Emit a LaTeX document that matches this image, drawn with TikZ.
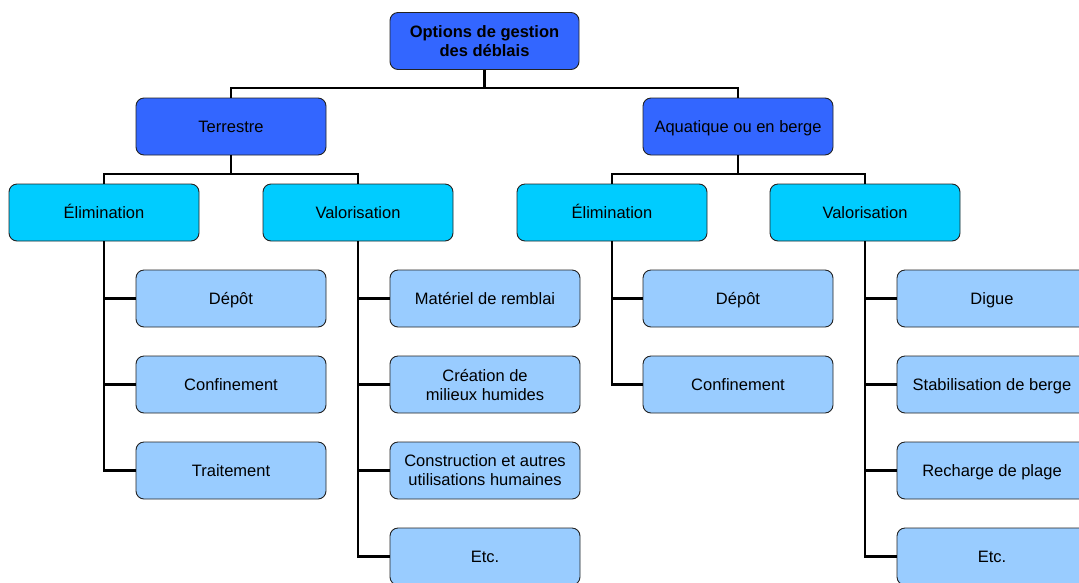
\documentclass[tikz,border=0pt]{standalone}
\usepackage{fontspec}
\setmainfont{Liberation Sans}
\definecolor{cTop}{HTML}{3366FF}
\definecolor{cMid}{HTML}{00CCFF}
\definecolor{cLeaf}{HTML}{99CCFF}
\definecolor{cEdge}{HTML}{222222}
\begin{document}
\begin{tikzpicture}[x=1pt,y=-1pt,
  box/.style={draw=cEdge,line width=0.9pt,rounded corners=8pt,minimum width=190pt,minimum height=57pt,inner sep=0pt,align=center,font=\fontsize{16.5}{19}\selectfont},
  one/.style={text height=12pt,text depth=0pt},
  topbox/.style={box,fill=cTop,minimum width=189pt,font=\fontsize{16.5}{19}\selectfont\bfseries},
  lvone/.style={box,one,fill=cTop},
  lvtwo/.style={box,one,fill=cMid},
  leaf/.style={box,one,fill=cLeaf},
  leaftwo/.style={box,fill=cLeaf},
  link/.style={line width=2.4pt,black}]
\useasboundingbox (0,0) rectangle (1079,582);
\clip (0,0) rectangle (1079,582);
% nodes
\node[topbox] (root) at (484.5,41) {Options de gestion\\des déblais};
\node[lvone] (ter) at (231,126.5) {Terrestre};
\node[lvone] (aqu) at (738,126.5) {Aquatique ou en berge};
\node[lvtwo] (te) at (104,212.5) {Élimination};
\node[lvtwo] (tv) at (358,212.5) {Valorisation};
\node[lvtwo] (ae) at (612,212.5) {Élimination};
\node[lvtwo] (av) at (865,212.5) {Valorisation};
\node[leaf] (te1) at (231,298.5) {Dépôt};
\node[leaf] (te2) at (231,384.5) {Confinement};
\node[leaf] (te3) at (231,470.5) {Traitement};
\node[leaf] (tv1) at (485,298.5) {Matériel de remblai};
\node[leaftwo] (tv2) at (485,384.5) {Création de\\milieux humides};
\node[leaftwo] (tv3) at (485,470.5) {Construction et autres\\utilisations humaines};
\node[leaf] (tv4) at (485,556.5) {Etc.};
\node[leaf] (ae1) at (738,298.5) {Dépôt};
\node[leaf] (ae2) at (738,384.5) {Confinement};
\node[leaf] (av1) at (992,298.5) {Digue};
\node[leaf] (av2) at (992,384.5) {Stabilisation de berge};
\node[leaf] (av3) at (992,470.5) {Recharge de plage};
\node[leaf] (av4) at (992,556.5) {Etc.};
% connectors
\coordinate (j0) at (484.5,88);
\draw[link] (root.south) -- (j0);
\draw[link] (ter.north) |- (j0) -| (aqu.north);
\coordinate (j1) at (231,174);
\draw[link] (ter.south) -- (j1);
\draw[link] (te.north) |- (j1) -| (tv.north);
\coordinate (j2) at (738,174);
\draw[link] (aqu.south) -- (j2);
\draw[link] (ae.north) |- (j2) -| (av.north);
% leaves
\draw[link] (te.south) |- (te3.west);
\draw[link] (te.south |- te1.west) -- (te1.west);
\draw[link] (te.south |- te2.west) -- (te2.west);
\draw[link] (tv.south) |- (tv4.west);
\draw[link] (tv.south |- tv1.west) -- (tv1.west);
\draw[link] (tv.south |- tv2.west) -- (tv2.west);
\draw[link] (tv.south |- tv3.west) -- (tv3.west);
\draw[link] (ae.south) |- (ae2.west);
\draw[link] (ae.south |- ae1.west) -- (ae1.west);
\draw[link] (av.south) |- (av4.west);
\draw[link] (av.south |- av1.west) -- (av1.west);
\draw[link] (av.south |- av2.west) -- (av2.west);
\draw[link] (av.south |- av3.west) -- (av3.west);
\end{tikzpicture}
\end{document}
